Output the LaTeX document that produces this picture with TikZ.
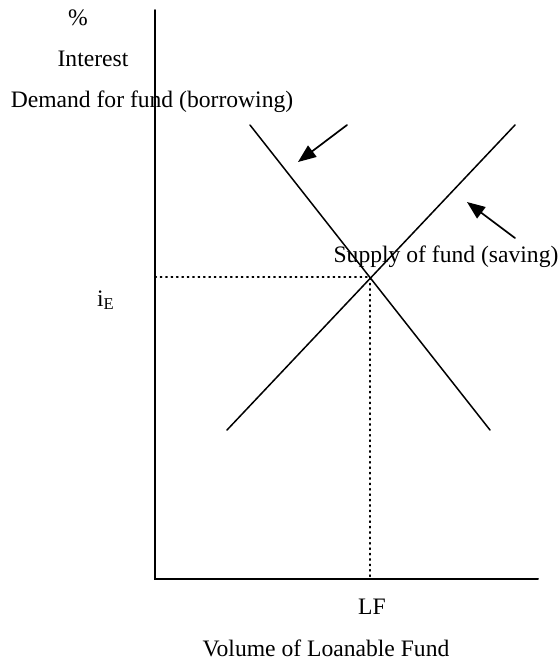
\documentclass[tikz,border=0pt]{standalone}
\usepackage{fontspec}
\setmainfont{Liberation Serif}
\usetikzlibrary{arrows.meta}

\begin{document}
\begin{tikzpicture}[x=0.5pt, y=-0.5pt, font=\fontsize{11.8}{14}\selectfont, line cap=round]
  \useasboundingbox (0,0) rectangle (560,661);
  \coordinate (top) at (155,10); \coordinate (O) at (155,579); \coordinate (right) at (538,579);
  \coordinate (E) at (370,277); \coordinate (Ey) at (155,277); \coordinate (Ex) at (370,579);
  \coordinate (D1) at (250,125); \coordinate (D2) at (490,430);
  \coordinate (S1) at (227,430); \coordinate (S2) at (515,125);
  \draw[line width=1pt] (top) -- (O) -- (right);
  \draw[dotted, line width=0.7pt] (Ey) -- (E) -- (Ex);
  \draw[line width=0.75pt] (D1) -- (D2); \draw[line width=0.75pt] (S1) -- (S2);
  % shift arrows
  \coordinate (dA) at (347,125); \coordinate (dB) at (298,162);
  \coordinate (sA) at (515,238); \coordinate (sB) at (467,202);
  \draw[line width=0.85pt, -{Triangle[length=9pt, width=7pt]}] (dA) -- (dB);
  \draw[line width=0.85pt, -{Triangle[length=9pt, width=7pt]}] (sA) -- (sB);
  \node (pct) at (78,18) {\%};
  \node (int) at (93,59) {Interest};
  \node (dem) at (152,102) {Demand for fund (borrowing)};
  \node (sup) at (446,257) {Supply of fund (saving)};
  \node (iE) at (106,300) {i\textsubscript{E}};
  \node (LF) at (372,607) {LF};
  \node (vol) at (326,648) {Volume of Loanable Fund};
\end{tikzpicture}
\end{document}
